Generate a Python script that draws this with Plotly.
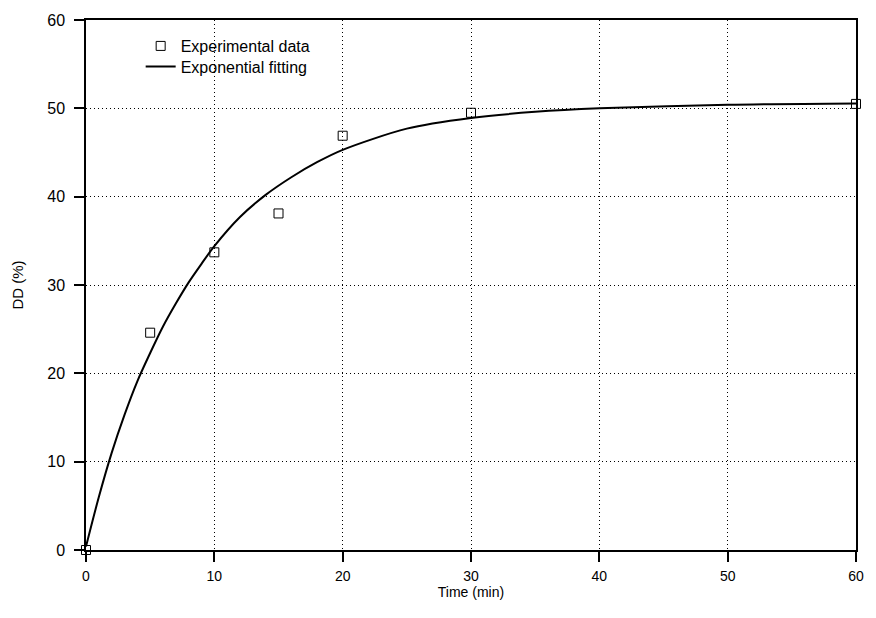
import plotly.graph_objects as go

# Experimental data
time_exp = [0, 5, 10, 15, 20, 30, 60]
dd_exp = [0.0, 24.6, 33.7, 38.1, 46.9, 49.5, 50.5]

# Exponential fitting curve
time_fit = [0, 1, 2, 3, 4, 5, 6, 7, 8, 9, 10, 12, 14, 16, 18, 20, 25, 30, 35, 40, 50, 60]
dd_fit = [0.4, 6.0, 11.0, 15.3, 19.1, 22.3, 25.3, 27.9, 30.3, 32.4, 34.4, 37.7, 40.2,
          42.2, 43.9, 45.3, 47.7, 48.9, 49.6, 50.0, 50.4, 50.55]

x_ticks = [0, 10, 20, 30, 40, 50, 60]
y_ticks = [0, 10, 20, 30, 40, 50, 60]

FONT = "Liberation Sans, Arial, sans-serif"

fig = go.Figure()
fig.add_trace(go.Scatter(
    x=time_exp, y=dd_exp, mode="markers", name="Experimental data",
    marker=dict(symbol="square-open", size=9, color="black", line=dict(width=1)),
    cliponaxis=False, legend="legend",
))
fig.add_trace(go.Scatter(
    x=time_fit, y=dd_fit, mode="lines", name="Exponential fitting",
    line=dict(color="black", width=2, shape="spline", smoothing=0.8),
    legend="legend2",
))

axis_common = dict(
    showline=True, linecolor="black", linewidth=1.5, mirror=True,
    ticks="outside", ticklen=10, tickwidth=1.5, tickcolor="black",
    showgrid=True, gridcolor="black", griddash="1px,3px", gridwidth=1,
    zeroline=False,
)

legend_common = dict(xanchor="left", yanchor="top", bgcolor="rgba(0,0,0,0)",
                     borderwidth=0, font=dict(family=FONT, size=16), itemwidth=30)

fig.update_layout(
    width=876, height=618,
    margin=dict(l=86, r=14, t=15, b=68),
    plot_bgcolor="white", paper_bgcolor="white",
    font=dict(family=FONT, size=15, color="black"),
    showlegend=True,
    legend=dict(x=0.071, y=0.983, **legend_common),
    legend2=dict(x=0.071, y=0.944, **legend_common),
    xaxis=dict(range=[0, 60], tickvals=x_ticks,
               tickfont=dict(family=FONT, size=14, color="black"),
               ticklabelstandoff=2,
               title=dict(text="Time (min)", font=dict(family=FONT, size=14), standoff=2),
               **axis_common),
    yaxis=dict(range=[0, 60], tickvals=y_ticks,
               tickfont=dict(family=FONT, size=16, color="black"),
               ticklabelstandoff=6,
               title=dict(text="DD (%)", font=dict(family=FONT, size=15), standoff=20),
               **axis_common),
)

fig.write_html("out.html")
